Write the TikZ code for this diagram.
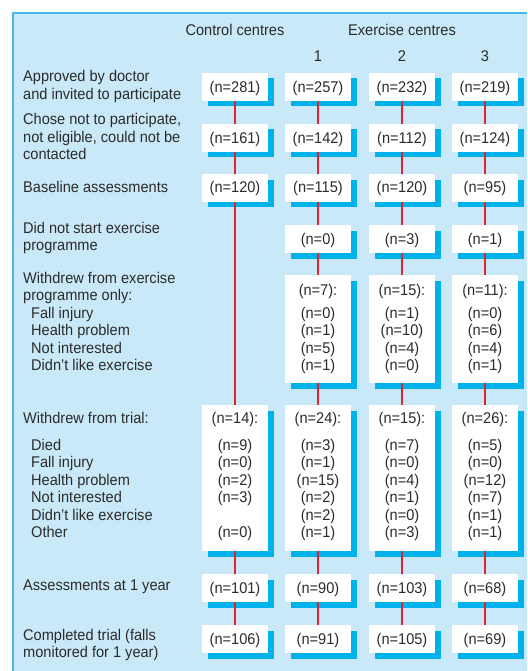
\documentclass[tikz,border=0pt]{standalone}
\usepackage{fontspec}
\setmainfont{Liberation Sans}[FakeStretch=0.94]
\definecolor{panelblue}{HTML}{C9E9F8}
\definecolor{edgeblue}{HTML}{45B9E8}
\definecolor{shadowblue}{HTML}{00B2EC}
\definecolor{linkred}{HTML}{E0242F}
\definecolor{inkgray}{HTML}{2B2B2B}
\newcommand\mkbox[4]{%
  \fill[fill=shadowblue] (#2-27.5,#3+5.5) rectangle (#2+38.5,#4+5.5);
  \node[numbox, minimum height={(#4-#3)*1pt}, anchor=north] (#1) at (#2,#3) {};%
}
\begin{document}
\begin{tikzpicture}[x=1pt,y=-1pt,
  font=\fontsize{15.5}{17.5}\selectfont,
  lbl/.style={anchor=base west, inner sep=0, text=inkgray},
  val/.style={anchor=base, inner sep=0, text=inkgray},
  numbox/.style={fill=white, inner sep=0, minimum width=66pt},
  conn/.style={draw=linkred, line width=1.4pt}]
\useasboundingbox (0,0) rectangle (527,671);
\fill[fill=panelblue] (13,13) rectangle (527,671);
\draw[draw=edgeblue, line width=2pt] (13,671) -- (13,13) -- (527,13);

% headers
\node[val] (hc) at (235,35.5) {Control centres};
\node[val] (he) at (402,35.5) {Exercise centres};
\node[val] (h1) at (318,61.5) {1};
\node[val] (h2) at (402,61.5) {2};
\node[val] (h3) at (485,61.5) {3};

% left labels
\node[lbl] (l1a) at (23,82) {Approved by doctor};
\node[lbl] (l1b) at (23,99.5) {and invited to participate};
\node[lbl] (l2a) at (23,125) {Chose not to participate,};
\node[lbl] (l2b) at (23,142.5) {not eligible, could not be};
\node[lbl] (l2c) at (23,160) {contacted};
\node[lbl] (l3) at (23,192) {Baseline assessments};
\node[lbl] (l4a) at (23,233) {Did not start exercise};
\node[lbl] (l4b) at (23,250.5) {programme};
\node[lbl] (l5a) at (23,283.3) {Withdrew from exercise};
\node[lbl] (l5b) at (23,300.7) {programme only:};
\node[lbl] (l5c) at (31,318) {Fall injury};
\node[lbl] (l5d) at (31,335.5) {Health problem};
\node[lbl] (l5e) at (31,353) {Not interested};
\node[lbl] (l5f) at (31,370.5) {Didn't like exercise};
\node[lbl] (l6a) at (23,423.5) {Withdrew from trial:};
\node[lbl] (l6b) at (31,450) {Died};
\node[lbl] (l6c) at (31,467.5) {Fall injury};
\node[lbl] (l6d) at (31,485) {Health problem};
\node[lbl] (l6e) at (31,502.5) {Not interested};
\node[lbl] (l6f) at (31,520) {Didn't like exercise};
\node[lbl] (l6g) at (31,537.5) {Other};
\node[lbl] (l7) at (23,590.7) {Assessments at 1 year};
\node[lbl] (l8a) at (23,640) {Completed trial (falls};
\node[lbl] (l8b) at (23,657) {monitored for 1 year)};

% boxes: control
\mkbox{c1}{235}{73}{101}
\mkbox{c2}{235}{124}{152}
\mkbox{c3}{235}{174}{201.5}
\mkbox{c6}{235}{405}{551}
\mkbox{c7}{235}{574}{602}
\mkbox{c8}{235}{625}{653}
% boxes: exercise centres
\foreach \cx/\k in {318/1, 402/2, 485/3} {
  \mkbox{e\k r1}{\cx}{73}{101}
  \mkbox{e\k r2}{\cx}{124}{152}
  \mkbox{e\k r3}{\cx}{174}{201.5}
  \mkbox{e\k r4}{\cx}{225}{253}
  \mkbox{e\k r5}{\cx}{275}{383}
  \mkbox{e\k r6}{\cx}{405}{551}
  \mkbox{e\k r7}{\cx}{574}{602}
  \mkbox{e\k r8}{\cx}{625}{653}
}

% connectors
\draw[conn] (c1) -- (c2);
\draw[conn] (c2) -- (c3);
\draw[conn] (c3) -- (c6);
\draw[conn] (c6) -- (c7);
\draw[conn] (c7) -- (c8);
\foreach \k in {1,2,3} {
  \draw[conn] (e\k r1) -- (e\k r2);
  \draw[conn] (e\k r2) -- (e\k r3);
  \draw[conn] (e\k r3) -- (e\k r4);
  \draw[conn] (e\k r4) -- (e\k r5);
  \draw[conn] (e\k r5) -- (e\k r6);
  \draw[conn] (e\k r6) -- (e\k r7);
  \draw[conn] (e\k r7) -- (e\k r8);
}

% single values
\foreach \cx/\k/\a/\b/\c/\g/\h in {235/c/281/161/120/101/106, 318/x1/257/142/115/90/91, 402/x2/232/112/120/103/105, 485/x3/219/124/95/68/69} {
  \node[val] (v\k a) at (\cx,92.5) {(n=\a)};
  \node[val] (v\k b) at (\cx,143.5) {(n=\b)};
  \node[val] (v\k c) at (\cx,193) {(n=\c)};
  \node[val] (v\k g) at (\cx,593.5) {(n=\g)};
  \node[val] (v\k h) at (\cx,644.5) {(n=\h)};
}
\foreach \cx/\k/\a in {318/1/0, 402/2/3, 485/3/1} {
  \node[val] (d\k) at (\cx,244.5) {(n=\a)};
}
% withdrew from exercise programme
\foreach \cx/\k/\t/\a/\b/\c/\d in {318/1/7/0/1/5/1, 402/2/15/1/10/4/0, 485/3/11/0/6/4/1} {
  \node[val] (w\k t) at (\cx,295) {(n=\t):};
  \node[val] (w\k a) at (\cx,318) {(n=\a)};
  \node[val] (w\k b) at (\cx,335.5) {(n=\b)};
  \node[val] (w\k c) at (\cx,353) {(n=\c)};
  \node[val] (w\k d) at (\cx,370.5) {(n=\d)};
}
% withdrew from trial
\node[val] (tct) at (235,423.5) {(n=14):};
\node[val] (tca) at (235,450) {(n=9)};
\node[val] (tcb) at (235,467.5) {(n=0)};
\node[val] (tcc) at (235,485) {(n=2)};
\node[val] (tcd) at (235,502.5) {(n=3)};
\node[val] (tcf) at (235,537.5) {(n=0)};
\foreach \cx/\k/\t/\a/\b/\c/\d/\e/\f in {318/1/24/3/1/15/2/2/1, 402/2/15/7/0/4/1/0/3, 485/3/26/5/0/12/7/1/1} {
  \node[val] (t\k t) at (\cx,423.5) {(n=\t):};
  \node[val] (t\k a) at (\cx,450) {(n=\a)};
  \node[val] (t\k b) at (\cx,467.5) {(n=\b)};
  \node[val] (t\k c) at (\cx,485) {(n=\c)};
  \node[val] (t\k d) at (\cx,502.5) {(n=\d)};
  \node[val] (t\k e) at (\cx,520) {(n=\e)};
  \node[val] (t\k f) at (\cx,537.5) {(n=\f)};
}
\end{tikzpicture}
\end{document}
